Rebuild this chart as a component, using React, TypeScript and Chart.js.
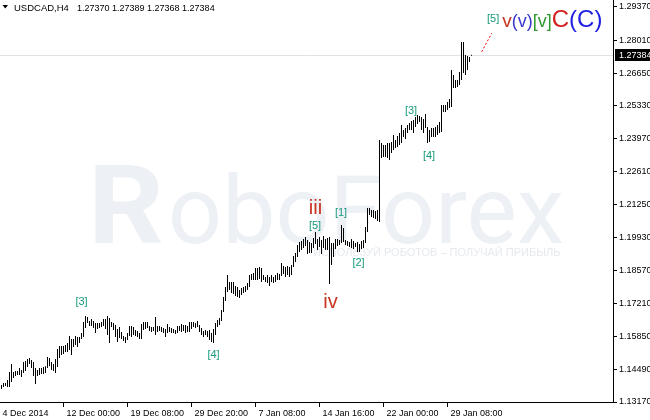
import React, { useEffect, useRef } from 'react';
import { Chart, registerables } from 'chart.js';

Chart.register(...registerables);

// ---------- data ----------
const SYMBOL = 'USDCAD,H4';
const HEADER_VALUES = ['1.27370', '1.27389', '1.27368', '1.27384'];
const CURRENT_PRICE = 1.27384;

// H4 bar highs / lows (oldest -> newest)
const HIGHS = [
  1.1387, 1.1395, 1.1395, 1.1407, 1.1440, 1.1473, 1.1440, 1.1444, 1.1444, 1.1456,
  1.1448, 1.1481, 1.1485, 1.1493, 1.1497, 1.1489, 1.1481, 1.1456, 1.1448, 1.1456,
  1.1456, 1.1460, 1.1464, 1.1501, 1.1497, 1.1481, 1.1473, 1.1493, 1.1534, 1.1547,
  1.1547, 1.1547, 1.1551, 1.1559, 1.1588, 1.1575, 1.1575, 1.1588, 1.1584, 1.1584,
  1.1600, 1.1645, 1.1670, 1.1666, 1.1649, 1.1657, 1.1649, 1.1641, 1.1641, 1.1641,
  1.1645, 1.1657, 1.1657, 1.1670, 1.1661, 1.1645, 1.1641, 1.1633, 1.1616, 1.1624,
  1.1604, 1.1588, 1.1584, 1.1600, 1.1629, 1.1629, 1.1624, 1.1612, 1.1608, 1.1600,
  1.1637, 1.1645, 1.1645, 1.1645, 1.1629, 1.1624, 1.1624, 1.1666, 1.1629, 1.1629,
  1.1624, 1.1620, 1.1616, 1.1637, 1.1624, 1.1620, 1.1616, 1.1612, 1.1629, 1.1629,
  1.1637, 1.1633, 1.1633, 1.1629, 1.1645, 1.1645, 1.1645, 1.1641, 1.1649, 1.1633,
  1.1620, 1.1608, 1.1612, 1.1608, 1.1612, 1.1600, 1.1616, 1.1641, 1.1653, 1.1661,
  1.1694, 1.1748, 1.1789, 1.1838, 1.1809, 1.1809, 1.1809, 1.1793, 1.1789, 1.1776,
  1.1784, 1.1789, 1.1793, 1.1805, 1.1838, 1.1842, 1.1846, 1.1866, 1.1866, 1.1870,
  1.1866, 1.1838, 1.1830, 1.1838, 1.1830, 1.1838, 1.1830, 1.1838, 1.1846, 1.1842,
  1.1887, 1.1875, 1.1870, 1.1875, 1.1870, 1.1879, 1.1916, 1.1928, 1.1961, 1.1973,
  1.1977, 1.1985, 1.1994, 1.1981, 1.1973, 1.1969, 1.1989, 1.2014, 1.1985, 1.1994,
  1.1981, 1.1998, 1.1985, 1.1989, 1.1994, 1.1969, 1.1969, 1.1985, 1.1985, 1.1981,
  1.2043, 1.2030, 1.1981, 1.1977, 1.1973, 1.1985, 1.1977, 1.1969, 1.1973, 1.1965,
  1.1977, 1.1981, 1.2034, 1.2112, 1.2112, 1.2104, 1.2104, 1.2100, 1.2104, 1.2391,
  1.2379, 1.2371, 1.2371, 1.2379, 1.2379, 1.2383, 1.2412, 1.2391, 1.2408, 1.2420,
  1.2453, 1.2432, 1.2440, 1.2453, 1.2461, 1.2469, 1.2473, 1.2485, 1.2494, 1.2490,
  1.2485, 1.2477, 1.2498, 1.2444, 1.2432, 1.2440, 1.2440, 1.2444, 1.2453, 1.2465,
  1.2535, 1.2535, 1.2535, 1.2547, 1.2559, 1.2678, 1.2658, 1.2637, 1.2637, 1.2670,
  1.2793, 1.2793, 1.2740, 1.2736, 1.2731, 1.27389,
];
const LOWS = [
  1.1370, 1.1379, 1.1383, 1.1379, 1.1379, 1.1399, 1.1415, 1.1424, 1.1428, 1.1428,
  1.1420, 1.1436, 1.1444, 1.1460, 1.1473, 1.1456, 1.1424, 1.1391, 1.1424, 1.1428,
  1.1432, 1.1432, 1.1436, 1.1456, 1.1464, 1.1448, 1.1444, 1.1436, 1.1460, 1.1497,
  1.1510, 1.1514, 1.1522, 1.1522, 1.1530, 1.1510, 1.1542, 1.1551, 1.1542, 1.1559,
  1.1575, 1.1584, 1.1620, 1.1641, 1.1629, 1.1629, 1.1620, 1.1600, 1.1616, 1.1620,
  1.1624, 1.1629, 1.1616, 1.1592, 1.1559, 1.1624, 1.1612, 1.1584, 1.1563, 1.1579,
  1.1575, 1.1567, 1.1559, 1.1571, 1.1588, 1.1584, 1.1592, 1.1588, 1.1584, 1.1575,
  1.1575, 1.1612, 1.1616, 1.1620, 1.1608, 1.1604, 1.1608, 1.1592, 1.1604, 1.1608,
  1.1604, 1.1600, 1.1584, 1.1600, 1.1604, 1.1600, 1.1600, 1.1596, 1.1600, 1.1608,
  1.1604, 1.1608, 1.1600, 1.1604, 1.1604, 1.1616, 1.1624, 1.1620, 1.1624, 1.1604,
  1.1592, 1.1584, 1.1592, 1.1584, 1.1571, 1.1563, 1.1559, 1.1592, 1.1624, 1.1633,
  1.1649, 1.1686, 1.1731, 1.1768, 1.1776, 1.1764, 1.1760, 1.1752, 1.1748, 1.1743,
  1.1756, 1.1764, 1.1768, 1.1776, 1.1789, 1.1817, 1.1817, 1.1817, 1.1817, 1.1821,
  1.1809, 1.1817, 1.1809, 1.1805, 1.1793, 1.1809, 1.1805, 1.1809, 1.1817, 1.1817,
  1.1834, 1.1842, 1.1830, 1.1838, 1.1830, 1.1838, 1.1870, 1.1891, 1.1912, 1.1932,
  1.1940, 1.1948, 1.1957, 1.1924, 1.1928, 1.1928, 1.1948, 1.1965, 1.1940, 1.1952,
  1.1924, 1.1948, 1.1940, 1.1940, 1.1801, 1.1879, 1.1912, 1.1944, 1.1957, 1.1961,
  1.1969, 1.1973, 1.1961, 1.1957, 1.1952, 1.1948, 1.1944, 1.1952, 1.1932, 1.1932,
  1.1944, 1.1948, 1.1969, 1.2014, 1.2084, 1.2076, 1.2071, 1.2067, 1.2059, 1.2055,
  1.2317, 1.2321, 1.2321, 1.2317, 1.2309, 1.2338, 1.2350, 1.2358, 1.2362, 1.2371,
  1.2379, 1.2403, 1.2395, 1.2420, 1.2432, 1.2432, 1.2420, 1.2444, 1.2457, 1.2465,
  1.2432, 1.2420, 1.2440, 1.2379, 1.2383, 1.2403, 1.2403, 1.2403, 1.2412, 1.2420,
  1.2424, 1.2506, 1.2506, 1.2514, 1.2522, 1.2527, 1.2604, 1.2604, 1.2608, 1.2617,
  1.2637, 1.2666, 1.2658, 1.2678, 1.2711, 1.27368,
];

const X_TICK_INDEX = [-1, 31, 63, 95, 127, 159, 191, 223];
const X_TICK_LABELS = ['4 Dec 2014', '12 Dec 00:00', '19 Dec 08:00', '29 Dec 20:00', '7 Jan 08:00', '14 Jan 16:00', '22 Jan 00:00', '29 Jan 08:00'];
const Y_TICKS = [1.2937, 1.2801, 1.2665, 1.2533, 1.2397, 1.2261, 1.2125, 1.1993, 1.1857, 1.1721, 1.1585, 1.1449, 1.1317];
const Y_MIN = 1.1317;
const Y_MAX = 1.29652;
const X_MIN = -0.75;
const X_MAX = 305.75;

// Elliott wave labels (anchored at bar index / price)
const WAVE_TEXT = ['[3]', '[4]', 'iii', '[5]', '[1]', '[2]', 'iv', '[3]', '[4]'];
const WAVE_INDEX = [40, 106, 157, 156.75, 169.75, 178.5, 164.5, 204.75, 213.75];
const WAVE_PRICE = [1.1727, 1.1508, 1.2110, 1.2039, 1.2094, 1.1887, 1.1725, 1.2512, 1.2326];
const WAVE_DEGREE = ['minute', 'minute', 'minor', 'minute', 'minute', 'minute', 'minor', 'minute', 'minute'];

// label group at the projected end of the move
const END_TEXT = ['[5]', 'v', '(v)', '[v]', 'C', '(C)'];
const END_DEGREE = ['minute', 'minor', 'intermediate', 'primary', 'cycle', 'supercycle'];
const END_INDEX = 242.75;
const END_PRICE_SMALL = 1.2875;
const END_PRICE = 1.2856;

// red dotted projection line
const TREND_INDEX = [240.1, 245.1];
const TREND_PRICE = [1.2753, 1.2829];

// ---------- styles ----------
const FONT = 'Liberation Sans';
const DEGREE_STYLE: Record<string, { color: string; size: number }> = {
  minute: { color: '#17997c', size: 11 },
  minor: { color: '#c8321e', size: 20 },
};
const END_STYLE: Record<string, { color: string; size: number }> = {
  minute: { color: '#17997c', size: 11 },
  minor: { color: '#c8321e', size: 19 },
  intermediate: { color: '#3838d0', size: 18 },
  primary: { color: '#2f9a2f', size: 18 },
  cycle: { color: '#d42020', size: 24 },
  supercycle: { color: '#2020e0', size: 24 },
};

const overlayPlugin = {
  id: 'mtOverlay',
  beforeDatasetsDraw(chart: any) {
    const { ctx, chartArea, scales } = chart;
    ctx.save();
    // watermark
    ctx.fillStyle = '#edf0f4';
    ctx.textBaseline = 'alphabetic';
    ctx.textAlign = 'left';
    ctx.font = 'bold 110px Roboto';
    const rw = ctx.measureText('R').width;
    ctx.save();
    ctx.translate(88, 243);
    ctx.scale(76 / rw, 1);
    ctx.fillText('R', 0, 0);
    ctx.restore();
    ctx.font = '95px Roboto';
    const tw = ctx.measureText('oboForex').width;
    ctx.save();
    ctx.translate(168, 243);
    ctx.scale(396 / tw, 1);
    ctx.fillText('oboForex', 0, 0);
    ctx.restore();
    ctx.fillStyle = '#e6e9ee';
    ctx.font = `11px ${FONT}`;
    ctx.fillText('ИСПОЛЬЗУЙ РОБОТОВ – ПОЛУЧАЙ ПРИБЫЛЬ', 313, 256);
    // price line
    const py = Math.round(scales.y.getPixelForValue(CURRENT_PRICE)) + 0.5;
    ctx.strokeStyle = '#e2e2e2';
    ctx.lineWidth = 1;
    ctx.beginPath();
    ctx.moveTo(chartArea.left, py);
    ctx.lineTo(chartArea.right, py);
    ctx.stroke();
    ctx.restore();
  },
  afterDatasetsDraw(chart: any) {
    const { ctx, scales } = chart;
    ctx.save();
    ctx.textAlign = 'center';
    ctx.textBaseline = 'middle';
    WAVE_TEXT.forEach((t, i) => {
      const st = DEGREE_STYLE[WAVE_DEGREE[i]];
      ctx.fillStyle = st.color;
      ctx.font = `${st.size}px ${FONT}`;
      ctx.fillText(t, scales.x.getPixelForValue(WAVE_INDEX[i]), scales.y.getPixelForValue(WAVE_PRICE[i]));
    });
    // end-of-move group
    ctx.textAlign = 'left';
    ctx.textBaseline = 'alphabetic';
    let x = scales.x.getPixelForValue(END_INDEX);
    END_TEXT.forEach((t, i) => {
      const st = END_STYLE[END_DEGREE[i]];
      ctx.fillStyle = st.color;
      ctx.font = `${st.size}px ${FONT}`;
      const y = scales.y.getPixelForValue(i === 0 ? END_PRICE_SMALL : END_PRICE);
      ctx.fillText(t, x, y);
      x += ctx.measureText(t).width + (i === 0 ? 3 : 0);
    });
    // header
    ctx.fillStyle = '#000';
    ctx.beginPath();
    ctx.moveTo(2.5, 5);
    ctx.lineTo(8, 5);
    ctx.lineTo(5.25, 8.5);
    ctx.closePath();
    ctx.fill();
    ctx.font = `9.5px ${FONT}`;
    ctx.fillText(SYMBOL, 14, 11);
    let hx = 77;
    ctx.font = `9px ${FONT}`;
    HEADER_VALUES.forEach((v) => {
      ctx.fillText(v, hx, 11);
      hx += ctx.measureText(v + ' ').width;
    });
    ctx.restore();
  },
  afterDraw(chart: any) {
    const { ctx, scales, chartArea } = chart;
    const py = scales.y.getPixelForValue(CURRENT_PRICE);
    ctx.save();
    ctx.fillStyle = '#000';
    ctx.fillRect(chartArea.right + 2, Math.round(py - 6), 40, 12);
    ctx.fillStyle = '#fff';
    ctx.font = `9px ${FONT}`;
    ctx.textAlign = 'left';
    ctx.textBaseline = 'middle';
    ctx.fillText(CURRENT_PRICE.toFixed(5), chartArea.right + 6, py);
    ctx.restore();
  },
};

export default function App() {
  const ref = useRef<HTMLCanvasElement | null>(null);
  useEffect(() => {
    if (!ref.current) return;
    const chart = new Chart(ref.current, {
      type: 'bar',
      data: {
        datasets: [
          {
            type: 'bar',
            data: HIGHS.map((h, i) => ({ x: i, y: [LOWS[i], h] })) as any,
            backgroundColor: '#000',
            borderWidth: 0,
            borderSkipped: false,
            inflateAmount: 0,
            barThickness: 1,
            minBarLength: 1,
          } as any,
          {
            type: 'line',
            data: TREND_INDEX.map((v, i) => ({ x: v, y: TREND_PRICE[i] })) as any,
            borderColor: '#ff0000',
            borderWidth: 1,
            borderDash: [2, 2],
            pointRadius: 0,
            fill: false,
          } as any,
        ],
      },
      options: {
        animation: false,
        responsive: false,
        devicePixelRatio: 1,
        layout: { padding: 0 },
        plugins: { legend: { display: false }, tooltip: { enabled: false }, title: { display: false } },
        events: [],
        scales: {
          x: {
            type: 'linear',
            min: X_MIN,
            max: X_MAX,
            bounds: 'data',
            offset: false,
            grid: { display: true, drawOnChartArea: false, drawTicks: true, tickLength: 5, color: '#000', offset: false },
            border: { display: true, color: '#000' },
            ticks: {
              autoSkip: false,
              maxRotation: 0,
              minRotation: 0,
              align: 'start',
              labelOffset: 3,
              padding: 1,
              color: '#000',
              font: { family: FONT, size: 9 },
              callback: (_v: any, idx: number) => X_TICK_LABELS[idx],
            },
            afterBuildTicks: (s: any) => {
              s.ticks = X_TICK_INDEX.map((v) => ({ value: v }));
            },
            afterFit: (s: any) => {
              s.height = 18;
              s.paddingLeft = 0;
              s.paddingRight = 0;
            },
          } as any,
          y: {
            type: 'linear',
            position: 'right',
            min: Y_MIN,
            max: Y_MAX,
            bounds: 'data',
            grid: { display: true, drawOnChartArea: false, drawTicks: true, tickLength: 4, color: '#000' },
            border: { display: true, color: '#000' },
            ticks: {
              autoSkip: false,
              padding: 2,
              color: '#000',
              font: { family: FONT, size: 9 },
              callback: (v: any) => Number(v).toFixed(5),
            },
            afterBuildTicks: (s: any) => {
              s.ticks = Y_TICKS.map((v) => ({ value: v }));
            },
            afterFit: (s: any) => {
              s.width = 37;
              s.paddingTop = 0;
              s.paddingBottom = 0;
            },
          } as any,
        },
      } as any,
      plugins: [overlayPlugin],
    });
    return () => chart.destroy();
  }, []);
  return (
    <div style={{ position: 'fixed', left: 0, top: 0, width: 650, height: 420, background: '#fff' }}>
      <canvas ref={ref} width={650} height={420} style={{ display: 'block' }} />
    </div>
  );
}
